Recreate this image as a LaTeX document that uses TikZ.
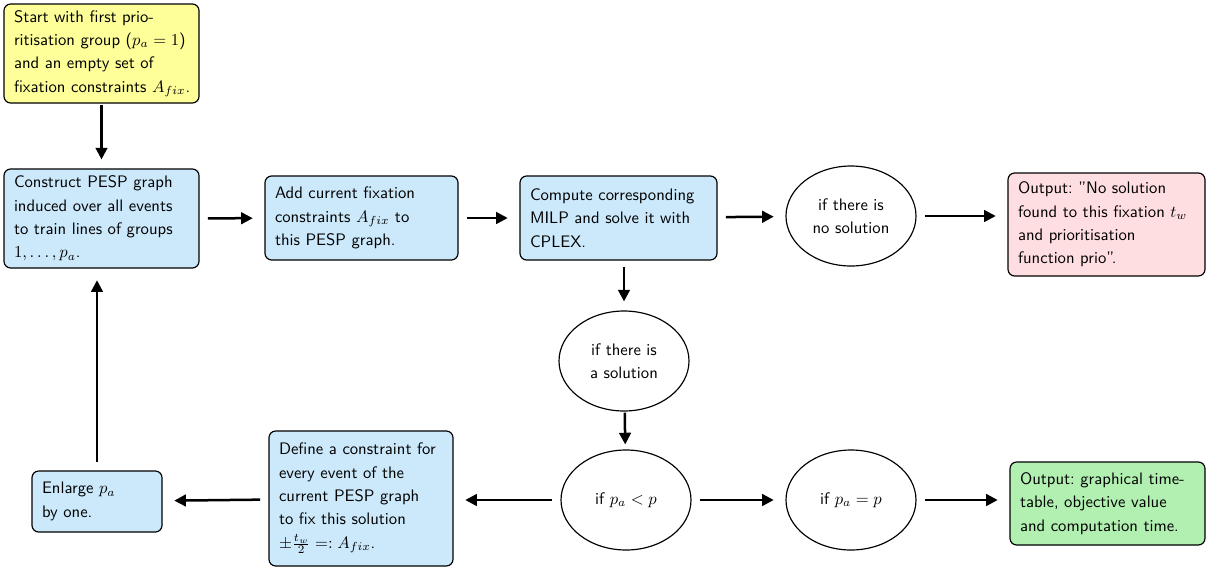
\documentclass[tikz,border=0pt]{standalone}
\usetikzlibrary{arrows.meta,shapes.geometric}
\definecolor{startyellow}{RGB}{255,255,153}
\definecolor{stepblue}{RGB}{204,233,251}
\definecolor{failred}{RGB}{255,222,225}
\definecolor{donegreen}{RGB}{178,240,178}
\tikzset{
	flowbox/.style={draw, rounded corners=4pt, align=left, inner xsep=6pt, inner ysep=2pt, line width=0.7pt, font=\sffamily\fontsize{10}{14}\selectfont\frenchspacing},
	cond/.style={draw, ellipse, align=center, minimum width=78pt, minimum height=60pt, inner sep=0pt, line width=0.7pt, font=\sffamily\fontsize{10}{14}\selectfont},
	flow/.style={line width=1.5pt, -{Triangle[length=7pt,width=7pt]}, shorten <=5pt, shorten >=7pt}
}

\begin{document}
\begin{tikzpicture}[x=0.6pt, y=-0.6pt]
		%%%%% START %%%%%
		\useasboundingbox (0,0) rectangle (1207,569);
		
		\node[flowbox, fill=startyellow, text width=105pt, minimum height=59.4pt] (start) at (101.5,53.5) {Start with first prio-\\ritisation group ($p_a=1$)\\and an empty set of\\\mbox{fixation constraints $A_{fix}$.}};
		\node[flowbox, fill=stepblue, text width=105pt, minimum height=59.4pt] (construct) at (101.5,218.5) {Construct PESP graph\\induced over all events\\to train lines of groups\\$1,\dots,p_a$.};
		\node[flowbox, fill=stepblue, text width=103.8pt, minimum height=50.4pt] (add) at (361.5,218) {Add current fixation\\constraints $A_{fix}$ to\\this PESP graph.};
		\node[flowbox, fill=stepblue, text width=106.2pt, minimum height=50.4pt] (compute) at (618.5,218) {Compute corresponding\\MILP and solve it with\\CPLEX.};
		\node[cond] (nosol) at (851,216) {if there is\\no solution};
		\node[flowbox, fill=failred, text width=106.2pt, minimum height=61.8pt] (outno) at (1106.5,224.5) {Output: "No solution\\found to this fixation $t_w$\\and prioritisation\\function prio".};
		
		\node[cond] (sol) at (624,361) {if there is\\a solution};
		
		\node[cond] (less) at (626,500) {if $p_a<p$};
		\node[cond] (eq) at (851,500) {if $p_a=p$};
		\node[flowbox, fill=donegreen, text width=105pt, minimum height=49.8pt] (outyes) at (1107.5,503.5) {Output: graphical time-\\table, objective value\\and computation time.};
		\node[flowbox, fill=stepblue, text width=98.4pt, minimum height=81pt] (define) at (361,498.5) {Define a constraint for\\every event of the\\current PESP graph\\to fix this solution\\$\pm\frac{t_w}{2}=:A_{fix}$.};
		\node[flowbox, fill=stepblue, text width=66pt, minimum height=36.6pt] (enlarge) at (97,501.5) {Enlarge $p_a$\\by one.};
		
		% connectors
		\draw[flow, shorten <=0.6pt, shorten >=5.4pt] (start) -- (construct);
		\draw[flow] (construct) -- (add);
		\draw[flow] (add) -- (compute);
		\draw[flow] (compute) -- (nosol);
		\draw[flow] (nosol) -- (nosol -| outno.west);
		\draw[flow, shorten <=3.6pt, shorten >=5.4pt] (sol |- compute.south) -- (sol);
		\draw[flow, shorten <=0.6pt, shorten >=3pt] (sol) -- (less);
		\draw[flow] (less) -- (eq);
		\draw[flow] (eq) -- (eq -| outyes.west);
		\draw[flow] (less) -- (less -| define.east);
		\draw[flow] (define) -- (enlarge);
		\draw[flow] (enlarge) -- (enlarge |- construct.south);
		
		%%%%% END %%%%%
	\end{tikzpicture}
\end{document}
